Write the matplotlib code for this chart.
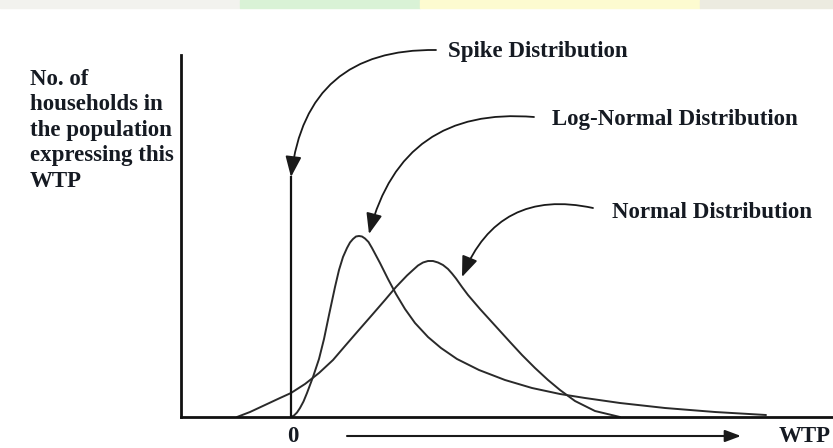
import matplotlib
matplotlib.use("Agg")
import matplotlib.pyplot as plt
from matplotlib.patches import Rectangle

# ---- data (WTP units on x, number of households on y) ----
lognormal_x = [0, 0.06, 0.12, 0.18, 0.25, 0.32, 0.38, 0.44, 0.5, 0.56, 0.66, 0.76, 0.88,
               0.96, 1.04, 1.12, 1.18, 1.24, 1.3, 1.36, 1.42, 1.48, 1.55, 1.62, 1.7,
               1.78, 1.94, 2.1, 2.28, 2.48, 2.74, 3.0, 3.32, 3.76, 4.28, 4.82,
               5.38, 5.88, 6.58, 7.48, 8.48, 9.5]
lognormal_y = [0, 0.03, 0.09, 0.18, 0.31, 0.48, 0.64, 0.8, 0.98, 1.16, 1.56, 2.04, 2.6,
               2.94, 3.2, 3.38, 3.49, 3.56, 3.61, 3.62, 3.61, 3.57, 3.5, 3.38, 3.23,
               3.08, 2.76, 2.46, 2.16, 1.88, 1.6, 1.38, 1.16, 0.94, 0.74, 0.58,
               0.46, 0.38, 0.28, 0.18, 0.1, 0.04]

normal_x = [-1.08, -0.82, -0.52, -0.22, 0, 0.28, 0.56, 0.84, 1.08, 1.34, 1.62, 1.88, 2.1,
            2.32, 2.44, 2.54, 2.64, 2.74, 2.84, 2.94, 3.04, 3.14, 3.22, 3.3, 3.42,
            3.54, 3.78, 3.98, 4.18, 4.38, 4.62, 4.88, 5.14, 5.38, 5.68, 6.08, 6.58]
normal_y = [0, 0.1, 0.24, 0.38, 0.48, 0.66, 0.88, 1.14, 1.42, 1.72, 2.04, 2.34, 2.6,
            2.83, 2.94, 3.03, 3.09, 3.12, 3.12, 3.09, 3.04, 2.96, 2.87, 2.77, 2.6,
            2.44, 2.16, 1.94, 1.72, 1.5, 1.24, 0.98, 0.74, 0.54, 0.32, 0.12, 0]

spike_x = 0
spike_height = 4.8

ylabel_lines = ["No. of", "households in", "the population", "expressing this", "WTP"]
label_spike = "Spike Distribution"
label_lognormal = "Log-Normal Distribution"
label_normal = "Normal Distribution"
x_zero_label = "0"
x_axis_label = "WTP"

# arrow targets (data) for the labels
spike_target = (spike_x, spike_height)
lognormal_target = (1.56, 3.66)
normal_target = (3.42, 2.8)

# ---- figure ----
W, H = 833, 448
fig = plt.figure(figsize=(W / 100, H / 100), dpi=100)
fig.patch.set_facecolor("white")

# faint watermark strip at the top
for x0, x1, c in [(0, 240, "#f2f2ee"), (240, 420, "#d9f2d6"), (420, 700, "#fdfbd0"),
                  (700, 833, "#ecebe0")]:
    fig.patches.append(Rectangle((x0 / W, 1 - 8 / H), (x1 - x0) / W, 8 / H,
                                 transform=fig.transFigure, color=c, zorder=0))

ax_l, ax_r, ax_b, ax_t = 181, 833, 417, 55
ax = fig.add_axes([ax_l / W, 1 - ax_b / H, (ax_r - ax_l) / W, (ax_b - ax_t) / H])
ax.set_xlim(-2.2, 10.84)
ax.set_ylim(0, 7.24)
ax.set_facecolor("none")
for s in ["top", "right"]:
    ax.spines[s].set_visible(False)
for s in ["left", "bottom"]:
    ax.spines[s].set_linewidth(2.0)
    ax.spines[s].set_color("#111111")
ax.set_xticks([])
ax.set_yticks([])

curve_kw = dict(color="#2a2a2a", lw=1.4, solid_capstyle="round",
                solid_joinstyle="round", clip_on=False)
ax.plot(lognormal_x, lognormal_y, **curve_kw)
ax.plot(normal_x, normal_y, **curve_kw)
ax.plot([spike_x, spike_x], [0, spike_height], color="#111111", lw=1.6)

font = dict(family="Liberation Serif", weight="bold", color="#151a22")
fs = 16.5


def ftext(x, y, s, **kw):
    fig.text(x / W, 1 - y / H, s, fontsize=fs, **font, **kw)


for i, line in enumerate(ylabel_lines):
    ftext(30, 85 + 25.5 * i, line, ha="left", va="baseline")

ftext(448, 57, label_spike, ha="left", va="baseline")
ftext(552, 125, label_lognormal, ha="left", va="baseline")
ftext(612, 218, label_normal, ha="left", va="baseline")

# "0" under spike and WTP axis label
ax.annotate(x_zero_label, xy=(spike_x, 0), xytext=(2, -25), textcoords="offset pixels",
            ha="center", va="baseline", fontsize=fs, annotation_clip=False, **font)
ftext(779, 442, x_axis_label, ha="left", va="baseline")

arrow_kw = dict(arrowstyle="-|>,head_length=0.9,head_width=0.35", color="#1a1a1a",
                lw=1.3, shrinkA=0, shrinkB=0)
for target, start, rad in [(spike_target, (436, 50), 0.45),
                           (lognormal_target, (534, 117), 0.42),
                           (normal_target, (593, 208), 0.42)]:
    ax.annotate("", xy=target, xycoords="data",
                xytext=(start[0], H - start[1]), textcoords="figure pixels",
                arrowprops=dict(connectionstyle=f"arc3,rad={rad}", mutation_scale=14,
                                **arrow_kw),
                annotation_clip=False)

# horizontal WTP direction arrow
fig_arrow_y = H - 436
ax.annotate("", xy=(741, fig_arrow_y), xycoords="figure pixels",
            xytext=(347, fig_arrow_y), textcoords="figure pixels",
            arrowprops=dict(arrowstyle="-|>,head_length=0.8,head_width=0.3",
                            color="#1a1a1a", lw=1.5, mutation_scale=12,
                            shrinkA=0, shrinkB=0),
            annotation_clip=False)

fig.savefig("out.png", dpi=100, facecolor="white")
